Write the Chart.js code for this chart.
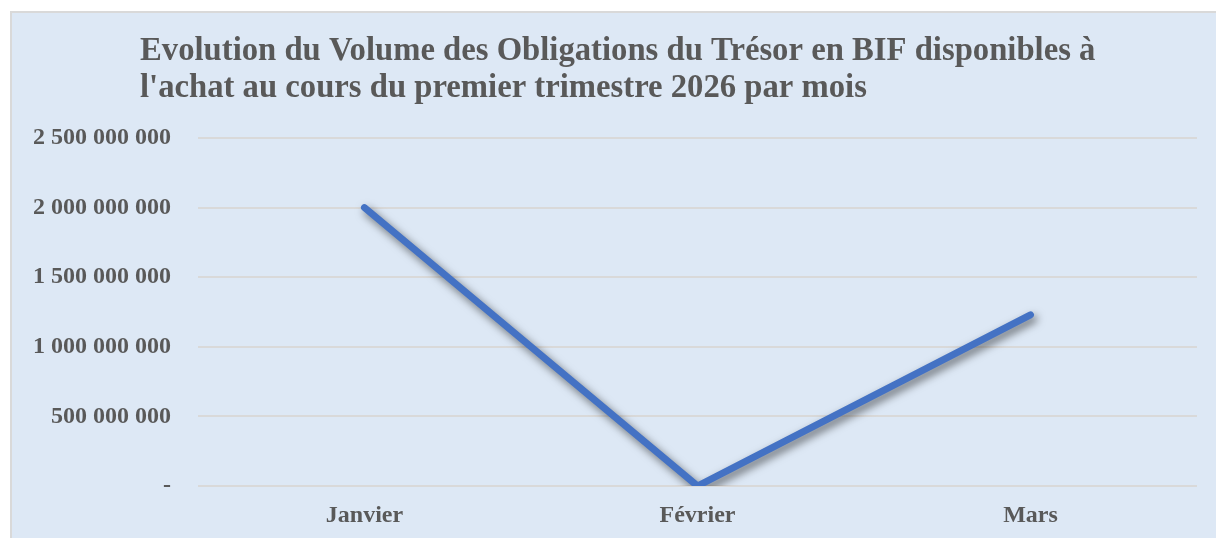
<!DOCTYPE html>
<html>
<head>
<meta charset="utf-8">
<script src="https://cdn.jsdelivr.net/npm/chart.js@4.4.1/dist/chart.umd.min.js"></script>
<style>
  body { margin: 0; background: #ffffff; }
  #frame {
    position: absolute; left: 10px; top: 11px; width: 1220px; height: 540px;
    background: #dde8f5; border: 2px solid #d9d9d9; box-sizing: border-box;
  }
  #wrap { position: absolute; left: 0; top: 0; width: 1216px; height: 538px; }
</style>
</head>
<body>
<div id="frame"></div>
<div id="wrap"><canvas id="myChart"></canvas></div>
<script>
const months = ["Janvier", "Février", "Mars"];
const volumes = [2000000000, 0, 1230000000];
const titleLines = [
  "Evolution du Volume des Obligations du Trésor en BIF disponibles à",
  "l'achat au cours du premier trimestre 2026 par mois"
];

const ctx = document.getElementById("myChart").getContext("2d");
const serif = "'Liberation Serif', 'Times New Roman', serif";
const grey = "#595959";

function formatTick(value) {
  if (value === 0) return "-";
  return String(value).replace(/\B(?=(\d{3})+(?!\d))/g, " ");
}

// shadow under the line + title shifted to the right
const lineShadow = {
  id: "lineShadow",
  beforeDatasetsDraw(chart) {
    const c = chart.ctx;
    c.save();
    c.shadowColor = "rgba(0, 0, 0, 0.55)";
    c.shadowBlur = 8;
    c.shadowOffsetX = 3;
    c.shadowOffsetY = 4;
  },
  afterDatasetsDraw(chart) {
    chart.ctx.restore();
  },
  afterLayout(chart) {
    chart.titleBlock.left = 140;
  },
};

const config = {
  type: "line",
  data: {
    labels: months,
    datasets: [
      {
        label: "Volume",
        data: volumes,
        borderColor: "#4472c4",
        borderWidth: 7,
        borderCapStyle: "round",
        borderJoinStyle: "miter",
        pointRadius: 0,
        tension: 0,
        fill: false,
      },
    ],
  },
  options: {
    responsive: true,
    maintainAspectRatio: false,
    animation: false,
    layout: {
      padding: { left: 34, right: 19, top: 0, bottom: 8 },
    },
    plugins: {
      legend: { display: false },
      tooltip: { enabled: false },
      title: {
        display: true,
        text: titleLines,
        align: "start",
        color: grey,
        font: { family: serif, size: 32.7, weight: "bold", lineHeight: "37px" },
        padding: { top: 33, bottom: 31 },
      },
    },
    scales: {
      x: {
        offset: true,
        afterFit(scale) {
          scale.height = 44;
        },
        grid: { display: false, drawTicks: false },
        border: { display: false },
        ticks: {
          color: grey,
          padding: 15,
          maxRotation: 0,
          font: { family: serif, size: 24, weight: "bold" },
        },
      },
      y: {
        min: 0,
        max: 2500000000,
        afterFit(scale) {
          scale.width = 164;
        },
        border: { display: false },
        grid: { color: "#d9d9d9", lineWidth: 2, drawTicks: false },
        ticks: {
          stepSize: 500000000,
          color: grey,
          padding: 27,
          font: { family: serif, size: 24, weight: "bold" },
          callback: (value) => formatTick(value),
        },
      },
    },
  },
  plugins: [lineShadow],
};

const myChart = new Chart(ctx, config);
</script>
</body>
</html>
